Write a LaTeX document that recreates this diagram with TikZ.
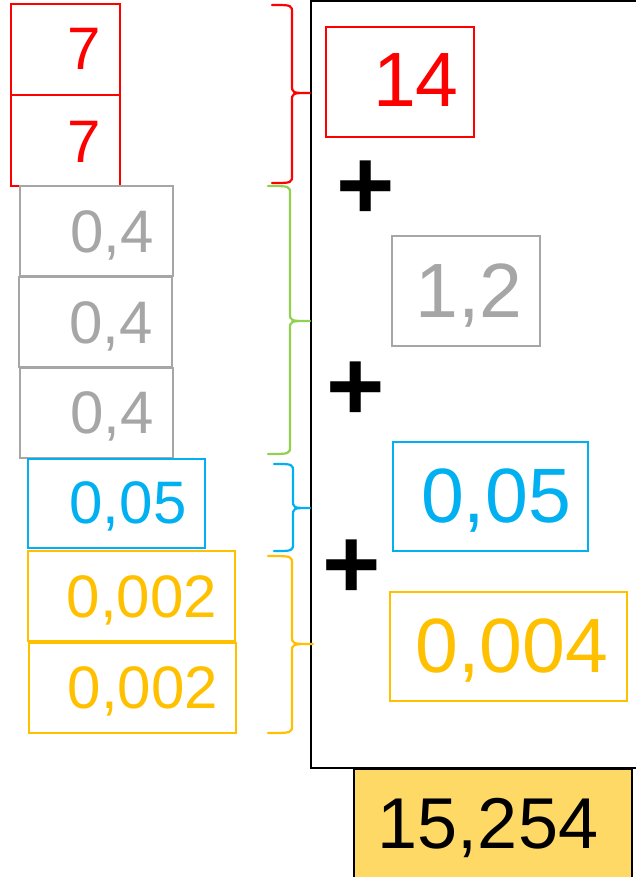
\documentclass[tikz,border=0pt]{standalone}
\usepackage{fontspec}
\setmainfont{Liberation Sans}
\definecolor{cred}{HTML}{FF0000}
\definecolor{cgray}{HTML}{A6A6A6}
\definecolor{cblue}{HTML}{00B0F0}
\definecolor{cyel}{HTML}{FFC000}
\definecolor{cgreen}{HTML}{92D050}
\definecolor{cres}{HTML}{FFD966}
\tikzset{
  pbox/.style={draw, line width=1.4pt, inner sep=0pt, outer sep=0pt, anchor=north west},
  small/.style={font=\fontsize{60}{60}\selectfont, anchor=base, inner sep=0pt},
  big/.style={font=\fontsize{77}{77}\selectfont, anchor=base, inner sep=0pt},
  plus/.style={font=\fontsize{100}{100}\selectfont\bfseries, inner sep=0pt},
  brace/.style={line width=2.2pt, line cap=round, line join=round},
}
\newcommand{\mybrace}[8]{% color, xl, xv, xt, yt, ym, yb, name
  \coordinate (#8) at (#4,#6);
  \draw[brace, #1] (#2,#5) .. controls (#3,#5) .. (#3,#5+8) -- (#3,#6-8)
    .. controls (#3,#6) .. (#8) .. controls (#3,#6) .. (#3,#6+8)
    -- (#3,#7-8) .. controls (#3,#7) .. (#2,#7);
}
\begin{document}
\begin{tikzpicture}[x=1pt,y=-1pt]
\useasboundingbox (0,0) rectangle (636,877);
\clip (0,0) rectangle (636,877);
% big frame
\node[draw, line width=2.5pt, inner sep=0pt, outer sep=0pt, anchor=north west, minimum width=330pt, minimum height=767pt] (frame) at (311,1) {};
% result
\node[draw, fill=cres, line width=1.5pt, inner sep=0pt, outer sep=0pt, anchor=north west, minimum width=278pt, minimum height=120pt] (res) at (354,769) {};
\node[font=\fontsize{72}{72}\selectfont, anchor=base, inner sep=0pt] (restext) at (488,848) {15,254};
% left boxes
\node[pbox, cred, minimum width=109pt, minimum height=91pt] (r1) at (11,4) {};
\node[pbox, cred, minimum width=109pt, minimum height=91pt] (r2) at (11,95) {};
\node[small, cred] (r1t) at (84,70) {7};
\node[small, cred] (r2t) at (84,163) {7};
\node[pbox, cgray, minimum width=153pt, minimum height=90pt] (g1) at (20,186) {};
\node[pbox, cgray, minimum width=153pt, minimum height=90pt] (g2) at (19,277) {};
\node[pbox, cgray, minimum width=153pt, minimum height=90pt] (g3) at (20,368) {};
\node[small, cgray] (g1t) at (112,252) {0,4};
\node[small, cgray] (g2t) at (111,343) {0,4};
\node[small, cgray] (g3t) at (112,433) {0,4};
\node[pbox, cblue, minimum width=177pt, minimum height=89pt] (b1) at (28,459) {};
\node[small, cblue] (b1t) at (128,523) {0,05};
\node[pbox, cyel, minimum width=207pt, minimum height=90pt] (y1) at (28,551) {};
\node[pbox, cyel, minimum width=207pt, minimum height=90pt] (y2) at (29,643) {};
\node[small, cyel] (y1t) at (142,617) {0,002};
\node[small, cyel] (y2t) at (143,708) {0,002};
% braces
\mybrace{cred}{272}{292}{310}{5}{93}{183}{br}
\mybrace{cgreen}{268}{290}{310}{186}{321}{454}{bg}
\mybrace{cblue}{274}{293}{310}{464}{508}{551}{bb}
\mybrace{cyel}{268}{292}{313}{556}{644}{733}{by}
% right boxes
\node[pbox, cred, minimum width=148pt, minimum height=110pt] (R) at (326,27) {};
\node[big, cred] (Rt) at (416,107) {14};
\node[pbox, cgray, minimum width=148pt, minimum height=110pt] (G) at (392,236) {};
\node[big, cgray] (Gt) at (469,317) {1,2};
\node[pbox, cblue, minimum width=195pt, minimum height=109pt] (B) at (393,442) {};
\node[big, cblue] (Bt) at (496,522) {0,05};
\node[pbox, cyel, minimum width=237pt, minimum height=109pt] (Y) at (390,592) {};
\node[big, cyel] (Yt) at (512,672) {0,004};
% plus signs
\node[plus] (p1) at (366,190) {+};
\node[plus] (p2) at (356,391) {+};
\node[plus] (p3) at (352,569) {+};
\end{tikzpicture}
\end{document}
